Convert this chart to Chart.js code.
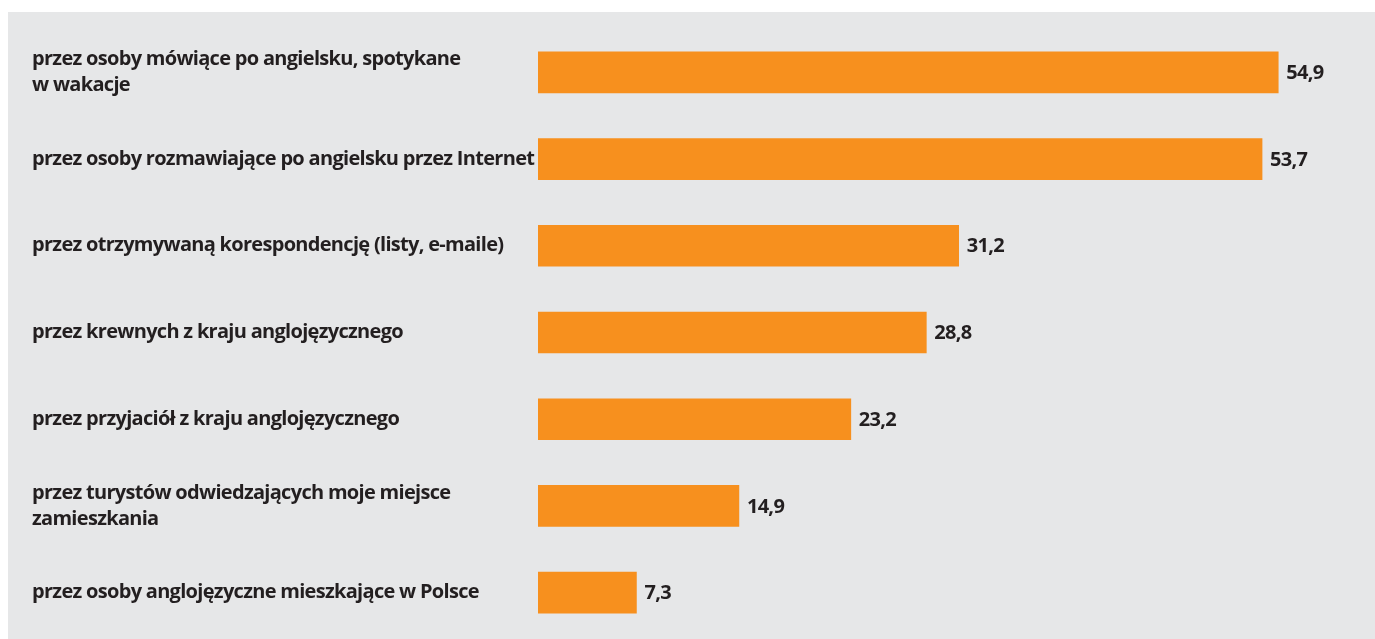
<!DOCTYPE html>
<html>
<head>
<meta charset="utf-8">
<script src="https://cdn.jsdelivr.net/npm/chart.js@4"></script>
<style>
  html, body { margin: 0; padding: 0; background: #ffffff; }
  #wrap { position: absolute; left: 8px; top: 12px; width: 1367px; height: 627px; background: #e6e7e8; }
  canvas { display: block; }
</style>
</head>
<body>
<div id="wrap"><canvas id="c" width="1367" height="627"></canvas></div>
<script>
const categories = [
  ["przez osoby mówiące po angielsku, spotykane", "w wakacje"],
  "przez osoby rozmawiające po angielsku przez Internet",
  "przez otrzymywaną korespondencję (listy, e-maile)",
  "przez krewnych z kraju anglojęzycznego",
  "przez przyjaciół z kraju anglojęzycznego",
  ["przez turystów odwiedzających moje miejsce", "zamieszkania"],
  "przez osoby anglojęzyczne mieszkające w Polsce"
];
const values = [54.9, 53.7, 31.2, 28.8, 23.2, 14.9, 7.3];

const FONT = "'Open Sans', sans-serif";
const TEXT = '#231f20';
const SPACING = '-0.7px';

const condense = {
  id: 'condense',
  beforeInit(chart) { chart.ctx.letterSpacing = SPACING; },
  beforeLayout(chart) { chart.ctx.letterSpacing = SPACING; },
  beforeDraw(chart) { chart.ctx.letterSpacing = SPACING; }
};

const valueLabels = {
  id: 'valueLabels',
  afterDatasetsDraw(chart) {
    const ctx = chart.ctx;
    const meta = chart.getDatasetMeta(0);
    ctx.save();
    ctx.letterSpacing = SPACING;
    ctx.font = 'bold 20px ' + FONT;
    ctx.fillStyle = TEXT;
    ctx.textAlign = 'left';
    ctx.textBaseline = 'middle';
    meta.data.forEach((bar, i) => {
      const txt = values[i].toFixed(1).replace('.', ',');
      ctx.fillText(txt, bar.x + 8, bar.y + 1);
    });
    ctx.restore();
  }
};

new Chart(document.getElementById('c'), {
  type: 'bar',
  data: {
    labels: categories,
    datasets: [{
      data: values,
      backgroundColor: '#f7901e',
      borderWidth: 0,
      barThickness: 41
    }]
  },
  options: {
    indexAxis: 'y',
    responsive: false,
    animation: false,
    devicePixelRatio: 1,
    layout: { padding: { left: 24, right: 28, top: 17, bottom: 3 } },
    plugins: { legend: { display: false }, tooltip: { enabled: false } },
    scales: {
      x: {
        min: 0, max: 60,
        display: false,
        grid: { display: false }
      },
      y: {
        grid: { display: false, drawTicks: false },
        border: { display: false },
        afterFit(scale) {
          scale.width = 506;
          scale.paddingTop = 0;
          scale.paddingBottom = 0;
        },
        ticks: {
          crossAlign: 'far',
          color: TEXT,
          font: { family: FONT, size: 20, weight: 'bold', lineHeight: 1.3 }
        }
      }
    }
  },
  plugins: [condense, valueLabels]
});
</script>
</body>
</html>
